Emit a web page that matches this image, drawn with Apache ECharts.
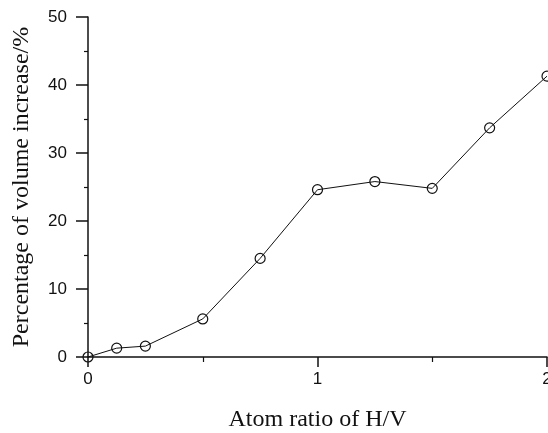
<!DOCTYPE html>
<html>
<head>
<meta charset="utf-8">
<script src="https://cdn.jsdelivr.net/npm/echarts@6/dist/echarts.min.js"></script>
<style>html,body{margin:0;padding:0;background:#fff}#c{width:548px;height:433px}</style>
</head>
<body>
<div id="c"></div>
<script>
const xValues = [0, 0.125, 0.25, 0.5, 0.75, 1, 1.25, 1.5, 1.75, 2];
const yValues = [0, 1.3, 1.6, 5.6, 14.5, 24.6, 25.8, 24.8, 33.7, 41.3];
const xTitle = 'Atom ratio of H/V';
const yTitle = 'Percentage of volume increase/%';

const chart = echarts.init(document.getElementById('c'));
chart.setOption({
  backgroundColor: '#fff',
  animation: false,
  grid: { left: 88, right: 1, top: 17, bottom: 76, outerBoundsMode: 'none', containLabel: false },
  xAxis: {
    type: 'value', min: 0, max: 2, interval: 1,
    name: xTitle, nameLocation: 'middle', nameGap: 51,
    nameTextStyle: { fontFamily: 'Liberation Serif', fontSize: 24, color: '#111' },
    axisLine: { show: true, onZero: false, lineStyle: { color: '#111', width: 1.5 } },
    axisTick: { show: true, length: 10, lineStyle: { color: '#111', width: 1.5 } },
    minorTick: { show: true, splitNumber: 2, length: 5, lineStyle: { color: '#111', width: 1.2 } },
    splitLine: { show: false },
    axisLabel: { fontFamily: 'Liberation Sans', fontSize: 17, color: '#111', margin: 14 }
  },
  yAxis: {
    type: 'value', min: 0, max: 50, interval: 10,
    name: yTitle, nameLocation: 'middle', nameGap: 54,
    nameTextStyle: { fontFamily: 'Liberation Serif', fontSize: 24, color: '#111' },
    axisLine: { show: true, onZero: false, lineStyle: { color: '#111', width: 1.5 } },
    axisTick: { show: true, length: 12, lineStyle: { color: '#111', width: 1.5 } },
    minorTick: { show: true, splitNumber: 2, length: 4, lineStyle: { color: '#111', width: 1.2 } },
    splitLine: { show: false },
    axisLabel: { fontFamily: 'Liberation Sans', fontSize: 17, color: '#111', margin: 21 }
  },
  series: [{
    type: 'line',
    data: xValues.map((x, i) => [x, yValues[i]]),
    clip: false,
    symbol: 'circle',
    symbolSize: 10,
    itemStyle: { color: 'rgba(255,255,255,0)', borderColor: '#111', borderWidth: 1.2 },
    lineStyle: { color: '#111', width: 1 }
  }]
});
</script>
</body>
</html>
